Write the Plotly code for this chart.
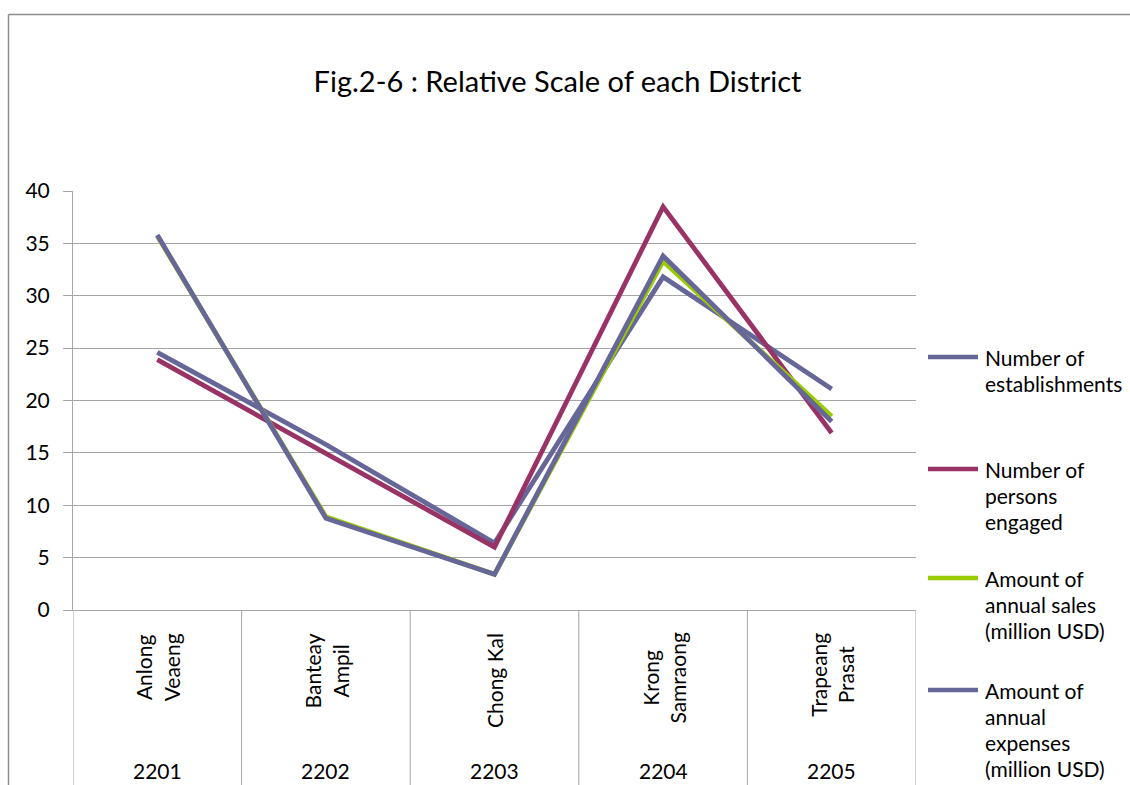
import plotly.graph_objects as go

districts = ["Anlong<br>Veaeng", "Banteay<br>Ampil", "Chong Kal", "Krong<br>Samraong", "Trapeang<br>Prasat"]
codes = ["2201", "2202", "2203", "2204", "2205"]

series_labels = [
    ["Number of", "establishments"],
    ["Number of", "persons", "engaged"],
    ["Amount of", "annual sales", "(million USD)"],
    ["Amount of", "annual", "expenses", "(million USD)"],
]
establishments = [24.6, 15.8, 6.4, 31.8, 21.1]
persons = [23.9, 14.9, 6.0, 38.5, 16.9]
sales = [35.7, 8.9, 3.4, 33.3, 18.5]
expenses = [35.8, 8.75, 3.4, 33.8, 18.0]
colors = ["#666699", "#993366", "#99cc00", "#666699"]

y_ticks = [0, 5, 10, 15, 20, 25, 30, 35, 40]

FONT = "Lato"
GRID = "#a6a6a6"
FS = 21

W, H = 1130, 785
L, R, T, B = 73, 214, 191, 175
pw = W - L - R
ph = H - T - B


def px_x(x):
    return (x - L) / pw


def px_y(y):
    return (H - B - y) / ph


fig = go.Figure()
xs = list(range(len(districts)))
for i, (lab, vals) in enumerate(zip(series_labels, [establishments, persons, sales, expenses])):
    fig.add_trace(go.Scatter(
        x=xs, y=vals, mode="lines", name=" ".join(lab),
        line=dict(color=colors[i], width=4.8), showlegend=False,
    ))

shapes = []
# chart frame
shapes.append(dict(type="line", xref="paper", yref="paper", x0=px_x(8.5), x1=px_x(W + 5),
                   y0=px_y(14.5), y1=px_y(14.5), line=dict(color="#8c8c8c", width=1.5)))
shapes.append(dict(type="line", xref="paper", yref="paper", x0=px_x(8.5), x1=px_x(8.5),
                   y0=px_y(14.5), y1=px_y(H + 5), line=dict(color="#8c8c8c", width=1.5)))
# category separators
for k in range(len(districts) + 1):
    shapes.append(dict(type="line", xref="x", yref="paper", x0=k - 0.5, x1=k - 0.5,
                       y0=0, y1=px_y(H + 5), line=dict(color=GRID, width=1)))

annotations = []
for i, (d, c) in enumerate(zip(districts, codes)):
    annotations.append(dict(x=i, y=px_y(631), xref="x", yref="paper", text=d,
                            textangle=-90, showarrow=False, xanchor="center", yanchor="top",
                            align="center", font=dict(family=FONT, size=FS, color="#000000")))
    annotations.append(dict(x=i, y=px_y(770), xref="x", yref="paper", text=c,
                            showarrow=False, xanchor="center", yanchor="middle",
                            font=dict(family=FONT, size=FS, color="#000000")))

# legend (manual, to keep the original spacing)
legend_top = [357, 469, 578, 690]
line_step = 26
for i, lab in enumerate(series_labels):
    y0 = legend_top[i]
    shapes.append(dict(type="line", xref="paper", yref="paper", x0=px_x(928), x1=px_x(978),
                       y0=px_y(y0), y1=px_y(y0), line=dict(color=colors[i], width=4.5)))
    for j, t in enumerate(lab):
        annotations.append(dict(x=px_x(983), y=px_y(y0 + j * line_step), xref="paper", yref="paper",
                                text=t, showarrow=False, xanchor="left", yanchor="middle",
                                font=dict(family=FONT, size=FS, color="#000000")))

fig.update_layout(
    width=W, height=H,
    margin=dict(l=L, r=R, t=T, b=B, pad=0),
    paper_bgcolor="white", plot_bgcolor="white",
    font=dict(family=FONT, size=FS, color="#000000"),
    showlegend=False,
    title=dict(text="Fig.2-6 : Relative Scale of each District", xref="container", yref="container",
               x=557.5 / W, y=1 - 82 / H, xanchor="center", yanchor="middle",
               font=dict(family=FONT, size=29, color="#000000")),
    xaxis=dict(range=[-0.5, len(districts) - 0.5], showgrid=False, zeroline=False,
               showticklabels=False, showline=True, linecolor=GRID, linewidth=1, ticks=""),
    yaxis=dict(range=[0, 40], tickvals=y_ticks, showgrid=True, gridcolor=GRID, gridwidth=1,
               zeroline=False, showline=True, linecolor=GRID, linewidth=1,
               ticks="outside", ticklen=9, tickcolor=GRID, tickwidth=1,
               tickfont=dict(family=FONT, size=FS, color="#000000"), ticklabelstandoff=9),
    shapes=shapes, annotations=annotations,
)

fig.write_html("out.html", config={"displayModeBar": False},
               post_script="document.body.style.margin='0';document.body.style.overflow='hidden';")
